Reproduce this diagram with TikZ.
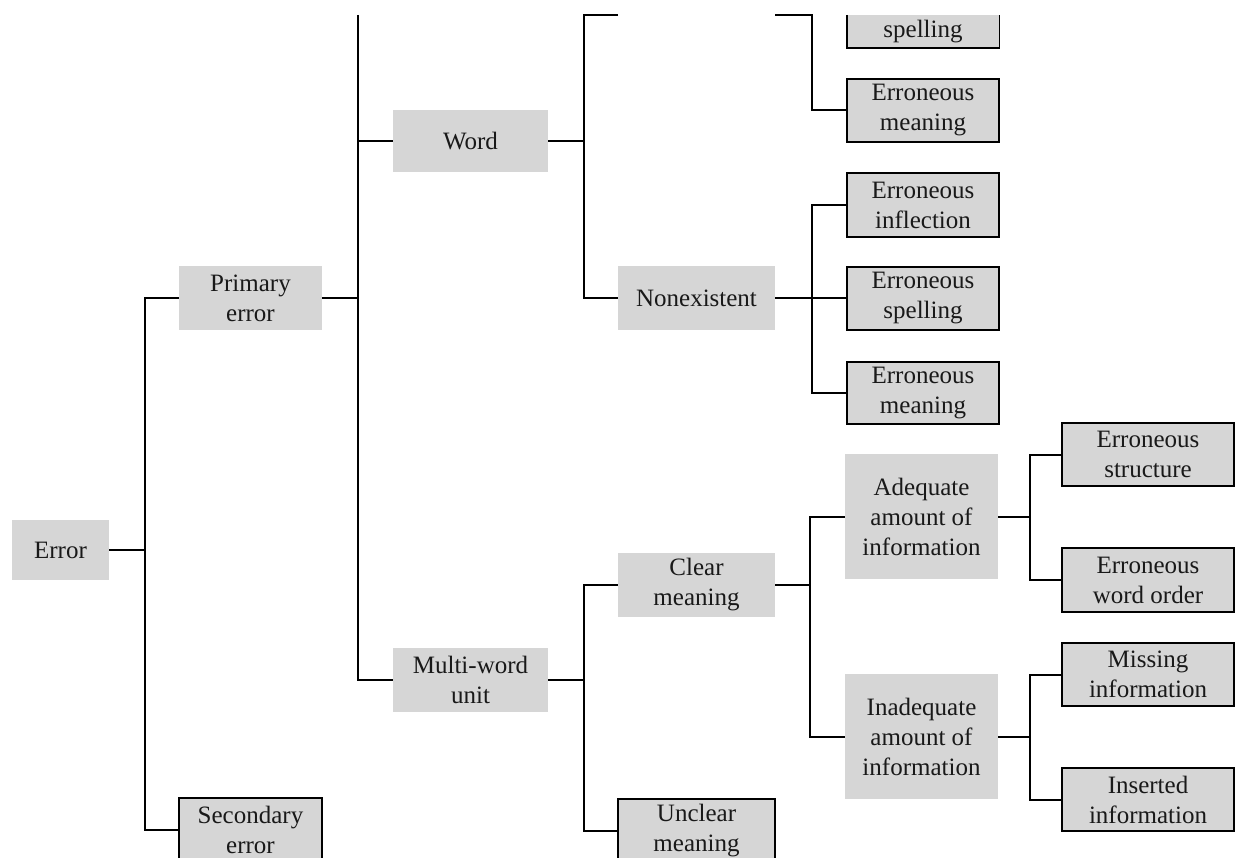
\documentclass[tikz,border=0pt]{standalone}
\usepackage{fontspec}
\setmainfont{Liberation Serif}
\definecolor{boxgray}{HTML}{D6D6D6}
\begin{document}
\begin{tikzpicture}[x=1pt,y=-1pt,
  base/.style={fill=boxgray, align=center, inner sep=0pt, text=black!90,
    font=\fontsize{25}{30}\selectfont},
  inner/.style 2 args={base, minimum width=#1, minimum height=#2},
  leaf/.style 2 args={base, draw=black, line width=1.4pt, minimum width=#1, minimum height=#2},
  conn/.style={line width=2pt, line join=miter}]
\useasboundingbox (0,0) rectangle (1236,858);
\clip (0,15) rectangle (1236,858);
% nodes
\node[inner={97}{60}] (err) at (60.5,550) {Error};
\node[inner={143}{64}] (prim) at (250.5,298) {Primary\\error};
\node[leaf={143}{64}] (sec) at (250.5,830) {Secondary\\error};
\node[inner={155}{62}] (word) at (470.5,141) {Word};
\node[inner={155}{64}] (multi) at (470.5,680) {Multi-word\\unit};
\node[inner={157}{64}] (nonex) at (696.5,298) {Nonexistent};
\node[inner={157}{64}] (clear) at (696.5,585) {Clear\\meaning};
\node[leaf={157}{64}] (unclear) at (696.5,831) {Unclear\\meaning};
\node[inner={152}{33}] (spellA) at (923,31.5) {spelling};
\draw[line width=1.4pt] (spellA.north west) -- (spellA.south west) -- (spellA.south east) -- (spellA.north east);
\node[leaf={152}{63}] (meanA) at (923,110.5) {Erroneous\\meaning};
\node[leaf={152}{64}] (infl) at (923,205) {Erroneous\\inflection};
\node[leaf={152}{63}] (spellB) at (923,298.5) {Erroneous\\spelling};
\node[leaf={152}{62}] (meanB) at (923,393) {Erroneous\\meaning};
\node[inner={153}{125}] (adeq) at (921.5,516.5) {Adequate\\amount of\\information};
\node[inner={153}{125}] (inad) at (921.5,736.5) {Inadequate\\amount of\\information};
\node[leaf={172}{63}] (struct) at (1148,454.5) {Erroneous\\structure};
\node[leaf={172}{64}] (order) at (1148,580) {Erroneous\\word order};
\node[leaf={172}{63}] (miss) at (1148,674.5) {Missing\\information};
\node[leaf={172}{63}] (ins) at (1148,799.5) {Inserted\\information};
% junction coordinates
\coordinate (j1) at (145,0);
\coordinate (j2) at (358,0);
\coordinate (j3) at (584,0);
\coordinate (j4) at (812,0);
\coordinate (j5) at (810,0);
\coordinate (j6) at (1030,0);
\coordinate (topA) at (358,15);
\coordinate (topB) at (618,15);
\coordinate (topC) at (775,15);
% connectors
\draw[conn] (err.east) -- (err.east -| j1);
\draw[conn] (prim.west) -- (prim.west -| j1) -- (sec.west -| j1) -- (sec.west);
\draw[conn] (prim.east) -- (prim.east -| j2);
\draw[conn] (topA) -- (multi.west -| j2) -- (multi.west);
\draw[conn] (word.west) -- (word.west -| j2);
\draw[conn] (word.east) -- (word.east -| j3);
\draw[conn] (topB) -- (topB -| j3) -- (nonex.west -| j3) -- (nonex.west);
\draw[conn] (multi.east) -- (multi.east -| j3);
\draw[conn] (clear.west) -- (clear.west -| j3) -- (unclear.west -| j3) -- (unclear.west);
\draw[conn] (topC) -- (topC -| j4) -- (meanA.west -| j4) -- (meanA.west);
\draw[conn] (nonex.east) -- (nonex.east -| j4);
\draw[conn] (infl.west) -- (infl.west -| j4) -- (meanB.west -| j4) -- (meanB.west);
\draw[conn] (spellB.west) -- (spellB.west -| j4);
\draw[conn] (clear.east) -- (clear.east -| j5);
\draw[conn] (adeq.west) -- (adeq.west -| j5) -- (inad.west -| j5) -- (inad.west);
\draw[conn] (adeq.east) -- (adeq.east -| j6);
\draw[conn] (struct.west) -- (struct.west -| j6) -- (order.west -| j6) -- (order.west);
\draw[conn] (inad.east) -- (inad.east -| j6);
\draw[conn] (miss.west) -- (miss.west -| j6) -- (ins.west -| j6) -- (ins.west);
\end{tikzpicture}
\end{document}
